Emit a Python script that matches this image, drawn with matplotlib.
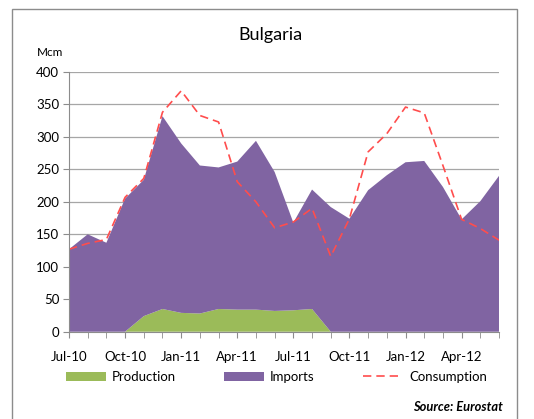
import numpy as np
import matplotlib
matplotlib.use("Agg")
import matplotlib.pyplot as plt
from matplotlib.patches import Rectangle, Patch
from matplotlib.lines import Line2D

plt.rcParams['font.family'] = ['Lato', 'DejaVu Sans']

# monthly data, Jul-10 .. Jun-12 (Mcm)
months = ['Jul-10', 'Aug-10', 'Sep-10', 'Oct-10', 'Nov-10', 'Dec-10',
          'Jan-11', 'Feb-11', 'Mar-11', 'Apr-11', 'May-11', 'Jun-11',
          'Jul-11', 'Aug-11', 'Sep-11', 'Oct-11', 'Nov-11', 'Dec-11',
          'Jan-12', 'Feb-12', 'Mar-12', 'Apr-12', 'May-12', 'Jun-12']
production = [0, 0, 0, 0, 24, 35, 29, 28, 35, 34, 34, 32,
              33, 35, 0, 0, 0, 0, 0, 0, 0, 0, 0, 0]
imports = [127, 150, 137, 205, 210, 297, 261, 228, 218, 228, 260, 214,
           135, 184, 192, 174, 218, 241, 261, 263, 223, 173, 201, 240]
consumption = [127, 136, 142, 207, 236, 338, 371, 333, 323, 231, 200, 160,
               169, 190, 116, 174, 277, 305, 346, 337, 256, 173, 159, 141]
tick_labels = ['Jul-10', 'Oct-10', 'Jan-11', 'Apr-11', 'Jul-11', 'Oct-11', 'Jan-12', 'Apr-12']

green = '#9BBB59'
purple = '#8064A2'
red = '#FF4D4D'

fig = plt.figure(figsize=(5.34, 4.19), dpi=100)
fig.patches.append(Rectangle((12/534, -0.05), (517-12)/534, 1-9/419+0.05,
                             transform=fig.transFigure, fill=False,
                             edgecolor='#8c8c8c', linewidth=1.0))

ax = fig.add_axes([69/534, 1-331.7/419, (499-69)/534, (331.7-72)/419])
x = np.arange(len(months))
ax.stackplot(x, production, imports, colors=[green, purple], linewidth=0)
ax.plot(x, consumption, color=red, linestyle=(0, (5, 3)), linewidth=1.2)

ax.set_xlim(0, len(months)-1)
ax.set_ylim(0, 400)
ax.set_yticks(np.arange(0, 401, 50))
ax.yaxis.grid(True, color='#a6a6a6', linewidth=0.9)
ax.set_axisbelow(True)
for s in ['top', 'right']:
    ax.spines[s].set_visible(False)
ax.spines['left'].set_color('#8c8c8c')
ax.spines['bottom'].set_color('#8c8c8c')
ax.set_xticks(x, minor=True)
ax.set_xticks([months.index(m) for m in tick_labels])
ax.set_xticklabels(tick_labels)
ax.tick_params(axis='x', which='both', length=4, color='#8c8c8c', labelsize=9.5, pad=10)
ax.tick_params(axis='y', length=4, color='#8c8c8c', labelsize=9.5, pad=3)

fig.text(270/534, 1-35/419, 'Bulgaria', ha='center', va='center', fontsize=13)
fig.text(37/534, 1-53/419, 'Mcm', ha='left', va='center', fontsize=8.5)
fig.text(503/534, 1-407/419, 'Source: Eurostat', ha='right', va='center',
         fontsize=9.3, fontweight='bold', fontstyle='italic')

handles = [Patch(facecolor=green, edgecolor='none', label='Production'),
           Patch(facecolor=purple, edgecolor='none', label='Imports'),
           Line2D([0], [0], color=red, linestyle=(0, (5, 3)), linewidth=1.2, label='Consumption')]
fig.legend(handles=handles, loc='center left', bbox_to_anchor=(66/534, 1-377/419), ncol=3,
           frameon=False, fontsize=9.5, handlelength=3.0, handleheight=0.7,
           columnspacing=3.7, handletextpad=0.45, borderpad=0, borderaxespad=0)

fig.savefig('out.png', dpi=100)
